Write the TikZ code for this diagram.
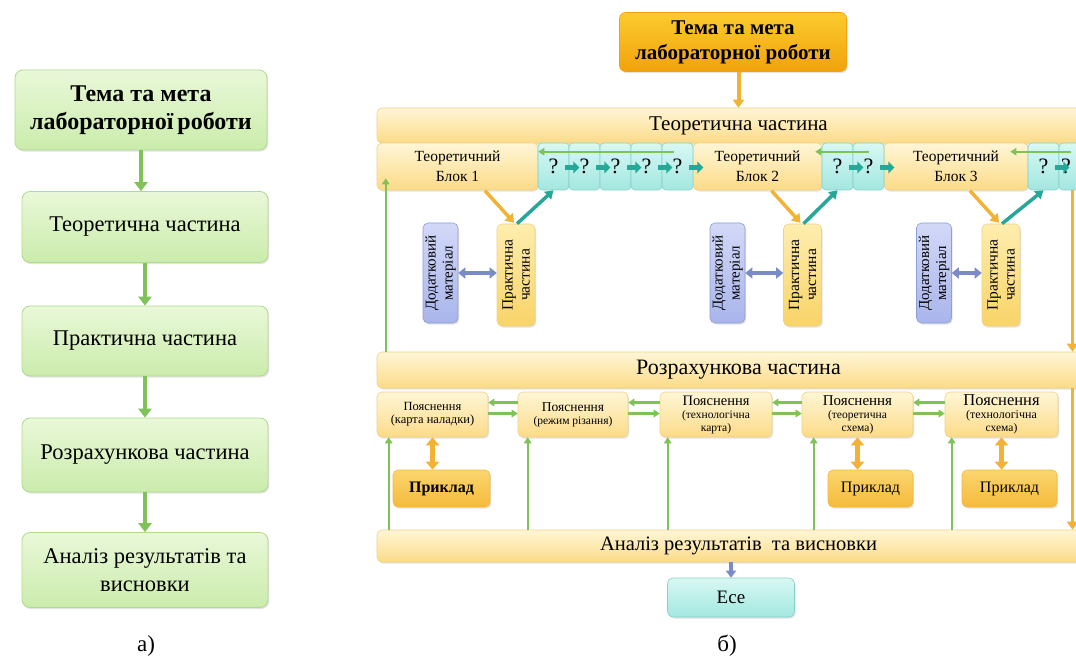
\documentclass[tikz,border=0pt]{standalone}
\usepackage{fontspec}
\setmainfont{Liberation Serif}
\usetikzlibrary{arrows.meta,calc,shadows}
\newcommand\fsz[2]{\fontsize{#1}{#2}\selectfont}
\definecolor{grnTop}{HTML}{E9F8D8}
\definecolor{grnBot}{HTML}{CBECAC}
\definecolor{grnLine}{HTML}{B0DA90}
\definecolor{grnArr}{HTML}{7FC257}
\definecolor{ylwTop}{HTML}{FFF6D6}
\definecolor{ylwBot}{HTML}{FCDB88}
\definecolor{ylwLine}{HTML}{EFD281}
\definecolor{prkTop}{HTML}{FEEDAE}
\definecolor{prkBot}{HTML}{F8D468}
\definecolor{gldTop}{HTML}{FCCB2E}
\definecolor{gldBot}{HTML}{F1A20C}
\definecolor{orgTop}{HTML}{FBD56E}
\definecolor{orgBot}{HTML}{F5BA3C}
\definecolor{orgArr}{HTML}{F2B233}
\definecolor{cynTop}{HTML}{D8F8F4}
\definecolor{cynBot}{HTML}{A3E7E0}
\definecolor{cynLine}{HTML}{86D1C8}
\definecolor{tealArr}{HTML}{27A798}
\definecolor{bluTop}{HTML}{D2D8F7}
\definecolor{bluBot}{HTML}{A9B5EB}
\definecolor{bluLine}{HTML}{8E9ED6}
\definecolor{bluArr}{HTML}{7A8BC7}
\begin{document}
\begin{tikzpicture}[x=1pt, y=-1pt,
    sz/.style 2 args={minimum width=#1pt, minimum height=#2pt},
    shd/.style={drop shadow={shadow xshift=1.2pt, shadow yshift=-1.6pt, opacity=0.22}},
    gbox/.style={draw=grnLine, line width=0.8pt, rounded corners=8pt, top color=grnTop, bottom color=grnBot, align=center, inner sep=1pt, shd},
    ybox/.style={draw=ylwLine, line width=0.6pt, rounded corners=5pt, top color=ylwTop, bottom color=ylwBot, align=center, inner sep=1pt, shd},
    pbox/.style={ybox, top color=prkTop, bottom color=prkBot},
    gbx/.style={draw=gldBot, line width=0.6pt, rounded corners=6pt, top color=gldTop, bottom color=gldBot, align=center, inner sep=1pt, shd},
    obx/.style={draw=orgBot, line width=0.6pt, rounded corners=5pt, top color=orgTop, bottom color=orgBot, align=center, inner sep=1pt, font=\fsz{16}{18}, shd},
    qbox/.style={draw=cynLine, line width=0.6pt, rounded corners=4pt, top color=cynTop, bottom color=cynBot, inner sep=0pt, font=\fsz{22}{24}},
    dbox/.style={draw=bluLine, line width=0.6pt, rounded corners=5pt, top color=bluTop, bottom color=bluBot, align=center, inner sep=1pt, shd},
    ebox/.style={qbox, rounded corners=6pt, shd},
    tipa/.style={draw=tealArr, line width=5pt, -{Triangle[width=12pt,length=6pt]}},
    garrL/.style={draw=grnArr, line width=3.5pt, -{Triangle[width=13pt,length=9pt]}},
    garr/.style={draw=grnArr, line width=2.2pt, -{Triangle[width=7.5pt,length=6pt]}},
    oarr/.style={draw=orgArr, line width=3.5pt, -{Triangle[width=11pt,length=8pt]}},
    tarr/.style={draw=tealArr, line width=3.5pt, -{Triangle[width=10pt,length=8pt]}},
    bdbl/.style={draw=bluArr, line width=4pt, {Triangle[width=11pt,length=7pt]}-{Triangle[width=11pt,length=7pt]}},
    odbl/.style={draw=orgArr, line width=5pt, {Triangle[width=13pt,length=8pt]}-{Triangle[width=13pt,length=8pt]}}]
  \fill[white] (0,0) rectangle (1076,663);
  \useasboundingbox (0,0) rectangle (1076,663);
  \clip (0,0) rectangle (1076,663);
  % а) linear scheme
  \node[gbox, sz={252}{80}, font=\bfseries\fsz{24}{28}] (aTema) at (141,110) {Тема та мета\\лабораторної\,роботи};
  \foreach \nm/\yy/\hh/\txt in {aTeor/227/71/{Теоретична частина}, aPrak/341/70/{Практична частина},
      aRozr/455/74/{Розрахункова частина}, aAnal/570/75/{Аналіз результатів та\\висновки}}
    \node[gbox, sz={246}{\hh}, font=\fsz{22.5}{28}] (\nm) at (145,\yy) {\txt};
  \foreach \a/\b in {aTema/aTeor, aTeor/aPrak, aPrak/aRozr, aRozr/aAnal}
    \draw[garrL] (\a.south) -- (\a.south |- \b.north);
  \node[font=\fsz{23}{24}] (aCap) at (146,646) {а)};
  % б) expanded scheme
  \node[gbx, sz={227}{59}, font=\bfseries\fsz{21}{25}] (bTema) at (733,42) {Тема та мета\\лабораторної роботи};
  \node[ybox, sz={723}{35}, font=\fsz{21}{22}] (bTeor) at (738.5,125.5) {Теоретична частина};
  \draw[oarr, line width=4pt] (bTeor.north |- bTema.south) -- (bTeor.north);
  \foreach \nm/\xx/\ww/\k in {bBlk1/457.5/161/1, bBlk2/757.5/129/2, bBlk3/956/144/3}
    \node[ybox, sz={\ww}{47}, font=\fsz{15.5}{20}] (\nm) at (\xx,166.5) {Теоретичний\\Блок \k};
  \foreach \i/\xx/\txt in {1/553.5/?, 2/584.5/?, 3/615.5/?, 4/646.5/?, 5/677.5/?, 6/837.5/?, 7/868.5/?, 8/1043.5/?, 9/1074.5/{}}
    \node[qbox, sz={31}{47}] (q\i) at (\xx,166.5) {\txt};
  \node[font=\fsz{22}{24}, inner sep=0pt] (qm9) at (1066,166.5) {?};
  \foreach \i in {1,...,8}
    \draw[tipa] ($(q\i.east)+(-4,1)$) -- ($(q\i.east)+(10,1)$);
  \draw[garr] ($(q5.north)+(-4,9)$) -- ($(bBlk1.north east)+(0,9)$);
  \draw[garr] ($(q7.north)+(0,9)$) -- ($(bBlk2.north east)+(-7,9)$);
  \draw[garr] ($(q9.north)+(-4,9)$) -- ($(bBlk3.north east)+(-18,9)$);
  \foreach \i/\dx/\px in {1/440.5/516, 2/727.5/802.5, 3/934/1001} {
    \node[dbox, sz={100}{35}, rotate=90, font=\fsz{15}{17}] (bD\i) at (\dx,273) {Додатковий\\матеріал};
    \node[pbox, sz={102}{38}, rotate=90, font=\fsz{15.5}{17}] (bP\i) at (\px,275) {Практична\\частина};
    \draw[bdbl] (bD\i.south) -- (bD\i.south -| bP\i.north);
    \draw[oarr] ($(bP\i.east)+(-31,-33)$) -- ($(bP\i.east)+(-2,-1)$);
  }
  \foreach \i/\q in {1/1, 2/6, 3/8}
    \draw[tarr] ($(bP\i.east)+(1,0)$) -- (q\q.south);
  \node[ybox, sz={723}{36}, font=\fsz{22}{22}] (bRozr) at (738.5,370) {Розрахункова частина};
  \draw[garr] ($(bRozr.north west)+(9,0)$) -- ($(bBlk1.south west)+(9,-12)$);
  \foreach \i/\xx/\ww/\txt in {1/432.5/111/{{\fsz{12.5}{14}Пояснення}\\{\fsz{12.5}{14}(карта наладки)}},
      2/573/110/{{\fsz{13.5}{15}Пояснення}\\(режим різання)},
      3/716/112/{{\fsz{14.5}{15}Пояснення}\\(технологічна\\карта)},
      4/857.5/111/{{\fsz{15}{15}Пояснення}\\(теоретична\\схема)},
      5/1001.5/113/{{\fsz{16.5}{16}Пояснення}\\{\fsz{12}{13}(технологічна}\\схема)}}
    \node[ybox, sz={\ww}{45}, font=\fsz{11.5}{13}] (bE\i) at (\xx,414.5) {\txt};
  \foreach \a/\b in {1/2, 2/3, 3/4, 4/5} {
    \draw[garr] ($(bE\b.west)+(0,-12)$) -- ($(bE\a.east)+(0,-12)$);
    \draw[garr] ($(bE\a.east)+(0,-1)$) -- ($(bE\b.west)+(0,-1)$);
  }
  \foreach \i/\xx/\ww/\txt in {1/441.5/97/{\bfseries Приклад}, 4/870.5/85/{Приклад}, 5/1009.5/95/{Приклад}} {
    \node[obx, sz={\ww}{37}] (bX\i) at (\xx,488.5) {\txt};
    \draw[odbl] (bE\i.south) -- (bE\i.south |- bX\i.north);
  }
  \node[ybox, sz={723}{32}, font=\fsz{20.5}{22}] (bAnal) at (738.5,546) {Аналіз результатів~ та висновки};
  \foreach \i/\dx in {1/12, 2/10, 3/8, 4/12, 5/7} {
    \coordinate (up\i) at ($(bE\i.south west)+(\dx,0)$);
    \draw[garr] (up\i |- bAnal.north) -- (up\i);
  }
  \coordinate (rgt) at ($(q9.south)+(-2,0)$);
  \draw[oarr] (rgt) -- (rgt |- bRozr.north);
  \draw[oarr] (rgt |- bRozr.south) -- (rgt |- bAnal.north);
  \node[ebox, sz={127}{39}, font=\fsz{19}{20}] (bEse) at (731,597.5) {Есе};
  \draw[draw=bluArr, line width=3.5pt, -{Triangle[width=10pt,length=7pt]}] (bAnal.south -| bEse.north) -- (bEse.north);
  \node[font=\fsz{23}{24}] (bCap) at (727,646) {б)};
\end{tikzpicture}
\end{document}
